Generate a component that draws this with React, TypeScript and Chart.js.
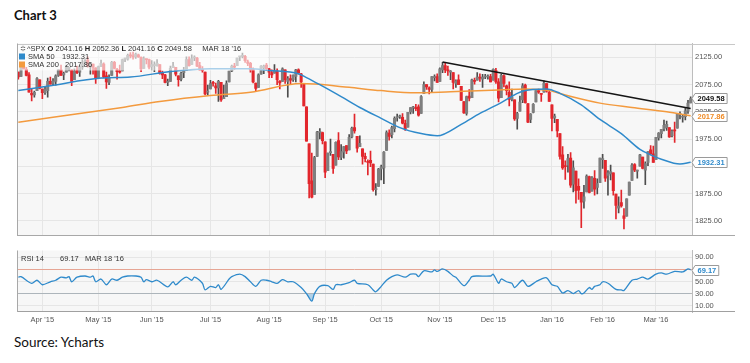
import React, { useEffect, useRef } from 'react';
import { Chart, registerables } from 'chart.js';

Chart.register(...registerables);

const FONT = '"Liberation Sans", Arial, sans-serif';

// ---- categories: trading days ----
const MONTHS = ['2015-03', '2015-04', '2015-05', '2015-06', '2015-07', '2015-08', '2015-09', '2015-10', '2015-11', '2015-12', '2016-01', '2016-02', '2016-03'];
const MONTH_DAYS = [
  [19, 20, 23, 24, 25, 26, 27, 30, 31],
  [1, 2, 6, 7, 8, 9, 10, 13, 14, 15, 16, 17, 20, 21, 22, 23, 24, 27, 28, 29, 30],
  [1, 4, 5, 6, 7, 8, 11, 12, 13, 14, 15, 18, 19, 20, 21, 22, 26, 27, 28, 29],
  [1, 2, 3, 4, 5, 8, 9, 10, 11, 12, 15, 16, 17, 18, 19, 22, 23, 24, 25, 26, 29, 30],
  [1, 2, 6, 7, 8, 9, 10, 13, 14, 15, 16, 17, 20, 21, 22, 23, 24, 27, 28, 29, 30, 31],
  [3, 4, 5, 6, 7, 10, 11, 12, 13, 14, 17, 18, 19, 20, 21, 24, 25, 26, 27, 28, 31],
  [1, 2, 3, 4, 8, 9, 10, 11, 14, 15, 16, 17, 18, 21, 22, 23, 24, 25, 28, 29, 30],
  [1, 2, 5, 6, 7, 8, 9, 12, 13, 14, 15, 16, 19, 20, 21, 22, 23, 26, 27, 28, 29, 30],
  [2, 3, 4, 5, 6, 9, 10, 11, 12, 13, 16, 17, 18, 19, 20, 23, 24, 25, 27, 30],
  [1, 2, 3, 4, 7, 8, 9, 10, 11, 14, 15, 16, 17, 18, 21, 22, 23, 24, 28, 29, 30, 31],
  [4, 5, 6, 7, 8, 11, 12, 13, 14, 15, 19, 20, 21, 22, 25, 26, 27, 28, 29],
  [1, 2, 3, 4, 5, 8, 9, 10, 11, 12, 16, 17, 18, 19, 22, 23, 24, 25, 26, 29],
  [1, 2, 3, 4, 7, 8, 9, 10, 11, 14, 15, 16, 17, 18],
];
const MONTH_NAMES = ['Jan', 'Feb', 'Mar', 'Apr', 'May', 'Jun', 'Jul', 'Aug', 'Sep', 'Oct', 'Nov', 'Dec'];

// ---- ^SPX daily OHLC ----
const OPENS = [
  2098, 2090, 2108, 2103, 2093, 2059, 2056, 2064, 2084,
  2067, 2060, 2064, 2081, 2077, 2081, 2092, 2102, 2093, 2098, 2105, 2102, 2084, 2102, 2098, 2107, 2113, 2120, 2109, 2113, 2106,
  2088, 2108, 2113, 2091, 2079, 2092, 2116, 2103, 2100, 2100, 2122, 2122, 2129, 2128, 2126, 2130, 2125, 2105, 2122, 2121,
  2108, 2110, 2110, 2112, 2096, 2093, 2079, 2081, 2106, 2107, 2091, 2085, 2097, 2101, 2121, 2112, 2124, 2124, 2110, 2103, 2098, 2061,
  2067, 2079, 2073, 2069, 2079, 2049, 2053, 2080, 2100, 2109, 2110, 2126, 2127, 2127, 2117, 2114, 2103, 2078, 2070, 2094, 2106, 2111,
  2104, 2097, 2096, 2100, 2082, 2081, 2102, 2081, 2086, 2084, 2090, 2102, 2095, 2077, 2034, 1966, 1898, 1873, 1943, 1987, 1987,
  1970, 1917, 1950, 1947, 1927, 1972, 1941, 1951, 1963, 1955, 1979, 1996, 1980, 1961, 1957, 1943, 1933, 1936, 1929, 1882, 1888,
  1920, 1922, 1954, 1986, 1983, 1994, 2014, 2016, 2015, 2004, 1997, 2025, 2032, 2033, 2034, 2022, 2059, 2075, 2069, 2066, 2088, 2090,
  2081, 2102, 2110, 2102, 2098, 2097, 2077, 2084, 2072, 2044, 2022, 2054, 2051, 2083, 2083, 2089, 2085, 2089, 2089, 2090,
  2083, 2101, 2080, 2051, 2091, 2073, 2061, 2048, 2047, 2013, 2026, 2047, 2074, 2040, 2011, 2024, 2043, 2064, 2058, 2061, 2077, 2061,
  2038, 2014, 2011, 1985, 1946, 1926, 1927, 1940, 1892, 1916, 1888, 1877, 1861, 1878, 1906, 1879, 1903, 1886, 1895,
  1937, 1936, 1908, 1911, 1913, 1874, 1848, 1858, 1834, 1833, 1872, 1899, 1928, 1916, 1925, 1942, 1918, 1932, 1955, 1948,
  1937, 1977, 1985, 1994, 1996, 1996, 1981, 1992, 1995, 2020, 2015, 2016, 2026, 2041.16,
];
const HIGHS = [
  2098, 2113, 2114, 2107, 2097, 2067, 2063, 2088, 2084,
  2067, 2072, 2087, 2089, 2086, 2093, 2102, 2111, 2098, 2111, 2107, 2102, 2104, 2109, 2110, 2121, 2121, 2126, 2116, 2113, 2106,
  2109, 2120, 2115, 2098, 2093, 2118, 2118, 2105, 2111, 2122, 2124, 2131, 2134, 2135, 2133, 2131, 2126, 2126, 2122, 2122,
  2119, 2117, 2121, 2112, 2100, 2094, 2085, 2109, 2116, 2107, 2091, 2098, 2107, 2126, 2126, 2130, 2128, 2125, 2116, 2108, 2098, 2074,
  2083, 2081, 2078, 2083, 2079, 2074, 2082, 2100, 2111, 2114, 2124, 2127, 2133, 2129, 2120, 2116, 2106, 2078, 2095, 2110, 2111, 2114,
  2105, 2102, 2112, 2104, 2082, 2106, 2102, 2090, 2093, 2093, 2103, 2104, 2096, 2077, 2034, 1966, 1949, 1943, 1989, 1994, 1988,
  1970, 1949, 1975, 1947, 1970, 1987, 1965, 1961, 1963, 1983, 1997, 2021, 1980, 1981, 1957, 1949, 1937, 1953, 1929, 1893, 1921,
  1927, 1952, 1990, 1992, 1999, 2016, 2021, 2019, 2022, 2010, 2024, 2033, 2035, 2039, 2038, 2055, 2080, 2075, 2071, 2090, 2093, 2095,
  2106, 2116, 2114, 2109, 2101, 2097, 2084, 2093, 2072, 2044, 2054, 2066, 2085, 2087, 2097, 2095, 2094, 2094, 2093, 2094,
  2104, 2105, 2086, 2094, 2093, 2074, 2080, 2067, 2047, 2024, 2054, 2077, 2076, 2040, 2022, 2040, 2064, 2067, 2058, 2082, 2077, 2063,
  2038, 2021, 2011, 1985, 1961, 1935, 1947, 1950, 1935, 1916, 1902, 1877, 1890, 1909, 1907, 1906, 1917, 1902, 1940,
  1947, 1936, 1917, 1927, 1913, 1874, 1869, 1881, 1847, 1865, 1896, 1930, 1930, 1918, 1947, 1942, 1933, 1952, 1963, 1962,
  1978, 1987, 1993, 2010, 2008, 1996, 1992, 2006, 2022, 2025, 2020, 2032, 2046, 2052.36,
];
const LOWS = [
  2085, 2090, 2104, 2091, 2061, 2045, 2052, 2064, 2067,
  2049, 2057, 2052, 2076, 2075, 2074, 2090, 2092, 2084, 2098, 2100, 2073, 2084, 2095, 2090, 2103, 2112, 2107, 2094, 2094, 2077,
  2088, 2108, 2088, 2068, 2075, 2092, 2104, 2085, 2096, 2100, 2117, 2120, 2124, 2122, 2123, 2125, 2099, 2105, 2113, 2104,
  2102, 2099, 2109, 2094, 2086, 2078, 2073, 2081, 2106, 2091, 2072, 2082, 2088, 2101, 2109, 2112, 2119, 2108, 2102, 2098, 2056, 2056,
  2067, 2072, 2059, 2044, 2044, 2049, 2053, 2080, 2099, 2103, 2110, 2119, 2124, 2116, 2110, 2098, 2078, 2063, 2070, 2094, 2095, 2102,
  2088, 2088, 2096, 2075, 2067, 2081, 2077, 2052, 2076, 2081, 2080, 2094, 2070, 2036, 1971, 1867, 1867, 1873, 1943, 1975, 1966,
  1904, 1917, 1945, 1912, 1927, 1937, 1937, 1940, 1948, 1955, 1977, 1986, 1951, 1961, 1929, 1933, 1909, 1924, 1879, 1872, 1888,
  1900, 1893, 1954, 1973, 1977, 1988, 2008, 2013, 2003, 1991, 1997, 2021, 2022, 2027, 2017, 2022, 2059, 2066, 2058, 2062, 2082, 2079,
  2081, 2097, 2097, 2092, 2084, 2067, 2070, 2075, 2046, 2022, 2019, 2045, 2051, 2076, 2083, 2081, 2070, 2086, 2085, 2080,
  2083, 2077, 2043, 2051, 2071, 2056, 2036, 2045, 2009, 1993, 2026, 2042, 2041, 2005, 2005, 2023, 2043, 2059, 2044, 2061, 2061, 2044,
  1990, 2005, 1979, 1938, 1919, 1901, 1914, 1886, 1878, 1857, 1864, 1812, 1848, 1878, 1876, 1879, 1872, 1874, 1895,
  1921, 1897, 1872, 1900, 1872, 1828, 1839, 1850, 1810, 1833, 1872, 1899, 1915, 1903, 1925, 1920, 1891, 1926, 1946, 1932,
  1937, 1973, 1977, 1990, 1991, 1978, 1979, 1969, 1995, 2012, 2006, 2010, 2022, 2041.16,
];
const CLOSES = [
  2089, 2108, 2104, 2092, 2061, 2056, 2061, 2086, 2068,
  2060, 2067, 2081, 2076, 2082, 2091, 2102, 2092, 2096, 2107, 2105, 2081, 2100, 2097, 2108, 2113, 2118, 2109, 2115, 2107, 2086,
  2108, 2114, 2089, 2080, 2088, 2116, 2105, 2099, 2098, 2121, 2123, 2129, 2128, 2126, 2131, 2126, 2104, 2123, 2121, 2107,
  2112, 2110, 2114, 2096, 2093, 2079, 2080, 2105, 2109, 2094, 2084, 2096, 2100, 2121, 2110, 2123, 2124, 2109, 2102, 2101, 2058, 2063,
  2077, 2077, 2069, 2081, 2047, 2051, 2077, 2100, 2109, 2107, 2124, 2127, 2128, 2119, 2114, 2102, 2080, 2068, 2093, 2109, 2109, 2104,
  2098, 2093, 2100, 2084, 2078, 2104, 2084, 2086, 2083, 2092, 2102, 2097, 2080, 2036, 1971, 1893, 1868, 1941, 1988, 1989, 1972,
  1914, 1949, 1951, 1921, 1969, 1942, 1952, 1961, 1953, 1978, 1995, 1990, 1958, 1967, 1943, 1939, 1932, 1931, 1882, 1884, 1920,
  1924, 1951, 1987, 1980, 1996, 2013, 2015, 2017, 2004, 1994, 2024, 2033, 2034, 2031, 2019, 2053, 2075, 2071, 2066, 2090, 2089, 2079,
  2104, 2110, 2102, 2100, 2099, 2079, 2082, 2075, 2046, 2023, 2053, 2050, 2084, 2081, 2089, 2087, 2089, 2089, 2090, 2080,
  2103, 2080, 2050, 2092, 2077, 2064, 2048, 2052, 2012, 2022, 2043, 2073, 2042, 2006, 2021, 2039, 2064, 2061, 2057, 2078, 2063, 2044,
  2013, 2017, 1990, 1943, 1922, 1924, 1939, 1890, 1922, 1880, 1881, 1859, 1869, 1907, 1877, 1904, 1883, 1893, 1940,
  1939, 1903, 1913, 1915, 1880, 1853, 1852, 1852, 1829, 1865, 1896, 1927, 1918, 1918, 1946, 1921, 1930, 1952, 1948, 1932,
  1978, 1986, 1993, 2000, 2002, 1979, 1989, 1990, 2022, 2020, 2016, 2027, 2041, 2049.58,
];

// ---- moving averages (at day indices) ----
const SMA50_IDX = [0, 12, 31, 42, 57, 72, 87, 94, 105, 108, 113, 121, 128, 136, 143, 151, 157, 166, 173, 181, 189, 198, 203, 211, 218, 226, 233, 237, 241, 248, 252];
const SMA50_VAL = [2064, 2073, 2087, 2089, 2099, 2104, 2104, 2101, 2095, 2088, 2075, 2053, 2033, 2013, 1996, 1985, 1981, 2002, 2022, 2042, 2063, 2067, 2059, 2038, 2011, 1985, 1956, 1946, 1938, 1929, 1932.31];
const SMA200_IDX = [0, 39, 53, 72, 87, 106, 111, 124, 136, 149, 162, 180, 190, 199, 205, 218, 230, 243, 252];
const SMA200_VAL = [2006, 2033, 2044, 2055, 2061, 2077, 2076, 2070, 2064, 2060, 2062, 2065, 2067, 2064, 2056, 2041, 2033, 2025, 2017.86];

// ---- trend line through Nov 3 and Dec 29 highs ----
const TREND_IDX = [159, 252];
const TREND_VAL = [2116.5, 2031];

// ---- RSI 14 ----
const RSI_IDX = [0, 1, 5, 7, 9, 12, 14, 16, 18, 19, 20, 22, 25, 27, 28, 29, 31, 33, 35, 37, 39, 41, 44, 46, 47, 48, 50, 52, 56, 58, 59, 61, 63, 65, 66, 69, 70, 72, 74, 75, 76, 79, 80, 83, 85, 87, 89, 91, 93, 95, 97, 99, 101, 103, 106, 108, 110, 111, 113, 116, 118, 119, 121, 124, 126, 127, 131, 133, 134, 136, 138, 140, 142, 145, 147, 149, 150, 152, 155, 156, 157, 159, 161, 163, 164, 167, 169, 170, 172, 177, 178, 180, 181, 183, 185, 186, 189, 191, 194, 196, 198, 200, 202, 204, 206, 208, 210, 211, 212, 214, 215, 216, 218, 219, 221, 224, 226, 227, 230, 232, 234, 236, 239, 241, 243, 246, 249, 251, 252];
const RSI_VAL = [57, 58, 47, 52, 44.6, 49.5, 52, 57, 56, 58, 49.5, 57, 59, 57, 59, 49.5, 54, 44.6, 54, 52, 57, 59, 59, 57, 49.5, 53, 49.5, 52, 41, 49.5, 44.6, 52, 57, 52, 57, 47, 36, 42, 40, 44.6, 37, 54, 58, 62, 58, 49.5, 42, 52, 52, 49.5, 47, 53, 49.5, 49.5, 40, 30, 17.6, 30, 42, 43, 37, 44.6, 44.6, 48, 52, 47, 44.6, 36, 33, 42, 52, 58, 61, 57, 62, 62, 58, 67.6, 65.7, 69, 66.6, 70.6, 66.6, 59, 57, 43, 52, 58, 59, 59, 62, 47, 54, 49.5, 47, 40, 52, 42, 49.5, 54, 56, 44.6, 42, 31, 35, 30, 35, 30, 31, 40, 37, 42, 44.6, 49.5, 47, 37, 36, 35, 52, 54, 57, 54, 62, 64, 62, 66.6, 65.7, 70.6, 69.17];

// ---- axes ----
const PRICE_TICKS = [1825, 1875, 1925, 1975, 2025, 2075, 2125];
const PRICE_MIN = 1797.7;
const PRICE_MAX = 2150.6;
const RSI_TICKS = [10, 30, 50, 70, 90];
const RSI_MIN = -0.3;
const RSI_MAX = 101;

// ---- header values ----
const LAST_DATE = "MAR 18 '16";
const LAST_OPEN = 2041.16;
const LAST_HIGH = 2052.36;
const LAST_LOW = 2041.16;
const LAST_CLOSE = 2049.58;
const LAST_SMA50 = 1932.31;
const LAST_SMA200 = 2017.86;
const LAST_RSI = 69.17;

const DATES: string[] = MONTHS.flatMap((m, i) => MONTH_DAYS[i].map((d) => `${m}-${String(d).padStart(2, '0')}`));
const MONTH_TICKS: number[] = (() => {
  const out: number[] = [];
  let acc = 0;
  MONTH_DAYS.forEach((days, i) => {
    if (i > 0) out.push(acc);
    acc += days.length;
  });
  return out;
})();
const monthLabel = (idx: number) => {
  const d = DATES[idx];
  return `${MONTH_NAMES[parseInt(d.slice(5, 7), 10) - 1]} '${d.slice(2, 4)}`;
};

const C_BLUE = '#2f8acb';
const C_ORANGE = '#f39a3e';
const C_RED = '#e2262c';
const C_UP = '#7f7f7f';
const C_UP_WICK = '#4d4d4d';
const GRID = '#e6e6e6';
const PLOT_BG = '#f7f7f7';
const TICK_COLOR = '#555';

const bgPlugin = {
  id: 'plotBg',
  beforeDraw(chart: any) {
    const { ctx, chartArea: a } = chart;
    ctx.save();
    ctx.fillStyle = PLOT_BG;
    ctx.fillRect(a.left, a.top, a.right - a.left, a.bottom - a.top);
    ctx.restore();
  },
};

function hline(ctx: CanvasRenderingContext2D, x1: number, x2: number, y: number, color: string) {
  ctx.beginPath();
  ctx.strokeStyle = color;
  ctx.lineWidth = 1;
  ctx.moveTo(x1, Math.round(y) + 0.5);
  ctx.lineTo(x2, Math.round(y) + 0.5);
  ctx.stroke();
}

function drawSegs(ctx: CanvasRenderingContext2D, x: number, y: number, segs: [string, boolean, string][]) {
  ctx.textBaseline = 'middle';
  ctx.textAlign = 'left';
  for (const [t, bold, color] of segs) {
    ctx.font = `${bold ? 'bold ' : ''}7.5px ${FONT}`;
    ctx.fillStyle = color;
    ctx.fillText(t, x, y);
    x += ctx.measureText(t).width;
  }
  return x;
}

function valueBox(ctx: CanvasRenderingContext2D, x: number, y: number, text: string, color: string) {
  ctx.save();
  ctx.font = `bold 7.5px ${FONT}`;
  const w = ctx.measureText(text).width + 5;
  const h = 10;
  const yy = Math.round(y) + 0.5;
  ctx.beginPath();
  ctx.moveTo(x - 3, yy);
  ctx.lineTo(x, yy - h / 2);
  ctx.lineTo(x + w, yy - h / 2);
  ctx.lineTo(x + w, yy + h / 2);
  ctx.lineTo(x, yy + h / 2);
  ctx.closePath();
  ctx.fillStyle = '#fff';
  ctx.fill();
  ctx.strokeStyle = '#9a9a9a';
  ctx.lineWidth = 1;
  ctx.stroke();
  ctx.fillStyle = color;
  ctx.textBaseline = 'middle';
  ctx.textAlign = 'left';
  ctx.fillText(text, x + 2.5, yy + 0.5);
  ctx.restore();
}

export default function App() {
  const mainRef = useRef<HTMLCanvasElement>(null);
  const rsiRef = useRef<HTMLCanvasElement>(null);

  useEffect(() => {
    document.body.style.margin = '0';
    const pts = (idx: number[], vals: number[]) => idx.map((i, k) => ({ x: DATES[i], y: vals[k] }));
    const up = CLOSES.map((c, i) => c >= OPENS[i]);

    const mainOverlay = {
      id: 'mainOverlay',
      afterDatasetsDraw(chart: any) {
        const { ctx, chartArea: a } = chart;
        ctx.save();
        ctx.fillStyle = 'rgba(255,255,255,0.6)';
        ctx.fillRect(a.left + 1, a.top + 1, 250, 26);
        const icon = (cx: number, cy: number) => {
          ctx.fillStyle = '#666';
          ctx.beginPath();
          ctx.moveTo(cx, cy - 3);
          ctx.lineTo(cx + 3, cy);
          ctx.lineTo(cx, cy + 3);
          ctx.lineTo(cx - 3, cy);
          ctx.closePath();
          ctx.fill();
          ctx.fillStyle = '#fff';
          ctx.fillRect(cx - 0.5, cy - 3, 1, 6);
          ctx.fillRect(cx - 3, cy - 0.5, 6, 1);
        };
        icon(a.left + 6, a.top + 5);
        drawSegs(ctx, a.left + 10, a.top + 5, [
          ['^SPX ', false, '#333'],
          ['O', true, '#222'], [` ${LAST_OPEN.toFixed(2)} `, false, '#333'],
          ['H', true, '#222'], [` ${LAST_HIGH.toFixed(2)} `, false, '#333'],
          ['L', true, '#222'], [` ${LAST_LOW.toFixed(2)} `, false, '#333'],
          ['C', true, '#222'], [` ${LAST_CLOSE.toFixed(2)}`, false, '#333'],
          [`     ${LAST_DATE}`, false, '#333'],
        ]);
        ctx.fillStyle = C_BLUE;
        ctx.fillRect(a.left + 2, a.top + 10, 6, 6);
        drawSegs(ctx, a.left + 11, a.top + 13, [['SMA 50', false, '#333']]);
        drawSegs(ctx, a.left + 45, a.top + 13, [[LAST_SMA50.toFixed(2), false, '#333']]);
        ctx.fillStyle = C_ORANGE;
        ctx.fillRect(a.left + 2, a.top + 18, 6, 6);
        drawSegs(ctx, a.left + 11, a.top + 21, [['SMA 200', false, '#333']]);
        drawSegs(ctx, a.left + 48, a.top + 21, [[LAST_SMA200.toFixed(2), false, '#333']]);
        ctx.restore();
      },
      afterDraw(chart: any) {
        const { ctx, chartArea: a, width } = chart;
        const y = chart.scales.y;
        ctx.save();
        hline(ctx, a.left, width, a.top, '#c8c8c8');
        hline(ctx, a.left, width, a.bottom - 1, '#a8a8a8');
        ctx.beginPath();
        ctx.strokeStyle = '#a8a8a8';
        ctx.moveTo(a.left + 0.5, a.top);
        ctx.lineTo(a.left + 0.5, a.bottom);
        ctx.stroke();
        ctx.restore();
        const bx = a.right + 3;
        valueBox(ctx, bx, y.getPixelForValue(LAST_CLOSE), LAST_CLOSE.toFixed(2), '#111');
        valueBox(ctx, bx, y.getPixelForValue(LAST_SMA200), LAST_SMA200.toFixed(2), '#ef8a24');
        valueBox(ctx, bx, y.getPixelForValue(LAST_SMA50), LAST_SMA50.toFixed(2), C_BLUE);
      },
    };

    const rsiOverlay = {
      id: 'rsiOverlay',
      afterDatasetsDraw(chart: any) {
        const { ctx, chartArea: a } = chart;
        ctx.save();
        drawSegs(ctx, a.left + 4, a.top + 8, [['RSI 14', false, '#333']]);
        drawSegs(ctx, a.left + 43, a.top + 8, [[LAST_RSI.toFixed(2), false, '#333']]);
        drawSegs(ctx, a.left + 68, a.top + 8, [[LAST_DATE, false, '#333']]);
        ctx.restore();
      },
      afterDraw(chart: any) {
        const { ctx, chartArea: a, width } = chart;
        ctx.save();
        hline(ctx, a.left, width, a.bottom - 1, '#a0a0a0');
        ctx.beginPath();
        ctx.strokeStyle = '#a8a8a8';
        ctx.moveTo(a.left + 0.5, a.top);
        ctx.lineTo(a.left + 0.5, a.bottom);
        ctx.stroke();
        ctx.restore();
        valueBox(ctx, a.right + 3, chart.scales.y.getPixelForValue(LAST_RSI), LAST_RSI.toFixed(2), C_BLUE);
      },
    };

    const xCommon = (showLabels: boolean) => ({
      type: 'category' as const,
      offset: true,
      grid: { offset: false, color: GRID, drawTicks: false },
      border: { display: false },
      ticks: {
        display: showLabels,
        autoSkip: false,
        maxRotation: 0,
        padding: 3,
        color: TICK_COLOR,
        font: { size: 7.5, family: FONT },
        callback: (v: any) => monthLabel(Number(v)),
      },
      afterBuildTicks: (s: any) => {
        s.ticks = MONTH_TICKS.map((v) => ({ value: v }));
      },
      afterFit: (s: any) => {
        s.height = showLabels ? 21 : 0;
      },
    });

    const mainChart = new Chart(mainRef.current as HTMLCanvasElement, {
      type: 'bar',
      data: {
        labels: DATES,
        datasets: [
          {
            type: 'line',
            label: 'trend',
            data: pts(TREND_IDX, TREND_VAL),
            borderColor: '#151515',
            borderWidth: 1.6,
            pointRadius: 0,
            order: 0,
          } as any,
          {
            type: 'line',
            label: 'SMA 50',
            data: pts(SMA50_IDX, SMA50_VAL),
            borderColor: C_BLUE,
            borderWidth: 1.5,
            pointRadius: 0,
            cubicInterpolationMode: 'monotone',
            order: 1,
          } as any,
          {
            type: 'line',
            label: 'SMA 200',
            data: pts(SMA200_IDX, SMA200_VAL),
            borderColor: C_ORANGE,
            borderWidth: 1.5,
            pointRadius: 0,
            cubicInterpolationMode: 'monotone',
            order: 1,
          } as any,
          {
            type: 'bar',
            label: 'body',
            data: OPENS.map((o, i) => [o, CLOSES[i]]),
            backgroundColor: up.map((u) => (u ? C_UP : C_RED)),
            grouped: false,
            barThickness: 2.4,
            minBarLength: 1,
            order: 2,
          } as any,
          {
            type: 'bar',
            label: 'wick',
            data: LOWS.map((l, i) => [l, HIGHS[i]]),
            backgroundColor: up.map((u) => (u ? C_UP_WICK : C_RED)),
            grouped: false,
            barThickness: 1,
            order: 3,
          } as any,
        ],
      },
      options: {
        responsive: false,
        maintainAspectRatio: false,
        animation: false,
        devicePixelRatio: 1,
        layout: { padding: { left: 17, right: 0, top: 0, bottom: 0 } },
        plugins: { legend: { display: false }, tooltip: { enabled: false } },
        scales: {
          x: xCommon(false) as any,
          y: {
            position: 'right',
            min: PRICE_MIN,
            max: PRICE_MAX,
            grid: { color: GRID, drawTicks: false },
            border: { display: true, color: '#bdbdbd' },
            ticks: {
              padding: 3,
              color: TICK_COLOR,
              font: { size: 7.5, family: FONT },
              callback: (v: any) => Number(v).toFixed(2),
            },
            afterBuildTicks: (s: any) => {
              s.ticks = PRICE_TICKS.map((v) => ({ value: v }));
            },
            afterFit: (s: any) => {
              s.width = 43;
            },
          } as any,
        },
      },
      plugins: [bgPlugin, mainOverlay],
    });

    const rsiChart = new Chart(rsiRef.current as HTMLCanvasElement, {
      type: 'line',
      data: {
        labels: DATES,
        datasets: [
          {
            label: 'RSI 14',
            data: pts(RSI_IDX, RSI_VAL),
            borderColor: C_BLUE,
            borderWidth: 1.3,
            pointRadius: 0,
            tension: 0.3,
            fill: { target: { value: 30 }, above: 'rgba(0,0,0,0)', below: 'rgba(47,138,203,0.35)' },
          } as any,
        ],
      },
      options: {
        responsive: false,
        maintainAspectRatio: false,
        animation: false,
        devicePixelRatio: 1,
        layout: { padding: { left: 17, right: 0, top: 0, bottom: 0 } },
        plugins: { legend: { display: false }, tooltip: { enabled: false } },
        scales: {
          x: xCommon(true) as any,
          y: {
            position: 'right',
            min: RSI_MIN,
            max: RSI_MAX,
            grid: {
              drawTicks: false,
              color: (c: any) =>
                c.tick && c.tick.value === 70 ? '#e6a594' : c.tick && c.tick.value === 30 ? '#b9b9b9' : GRID,
            },
            border: { display: true, color: '#bdbdbd' },
            ticks: {
              padding: 3,
              color: TICK_COLOR,
              font: { size: 7.5, family: FONT },
              callback: (v: any) => Number(v).toFixed(2),
            },
            afterBuildTicks: (s: any) => {
              s.ticks = RSI_TICKS.map((v) => ({ value: v }));
            },
            afterFit: (s: any) => {
              s.width = 43;
            },
          } as any,
        },
      },
      plugins: [bgPlugin, rsiOverlay],
    });

    return () => {
      mainChart.destroy();
      rsiChart.destroy();
    };
  }, []);

  return (
    <div style={{ position: 'relative', width: 750, height: 363, background: '#fff', overflow: 'hidden' }}>
      <div
        style={{
          position: 'absolute',
          left: 14,
          top: 9,
          fontFamily: 'Lato, "Open Sans", sans-serif',
          fontWeight: 700,
          fontSize: 13,
          lineHeight: '13px',
          color: '#111',
          whiteSpace: 'nowrap',
        }}
      >
        Chart 3
      </div>
      <canvas ref={mainRef} width={735} height={207} style={{ position: 'absolute', left: 0, top: 36, width: 735, height: 207 }} />
      <canvas ref={rsiRef} width={735} height={90} style={{ position: 'absolute', left: 0, top: 243, width: 735, height: 90 }} />
      <div
        style={{
          position: 'absolute',
          left: 14,
          top: 336,
          fontFamily: 'Lato, "Open Sans", sans-serif',
          fontSize: 13.5,
          lineHeight: '13.5px',
          color: '#111',
          whiteSpace: 'nowrap',
        }}
      >
        Source: Ycharts
      </div>
    </div>
  );
}
